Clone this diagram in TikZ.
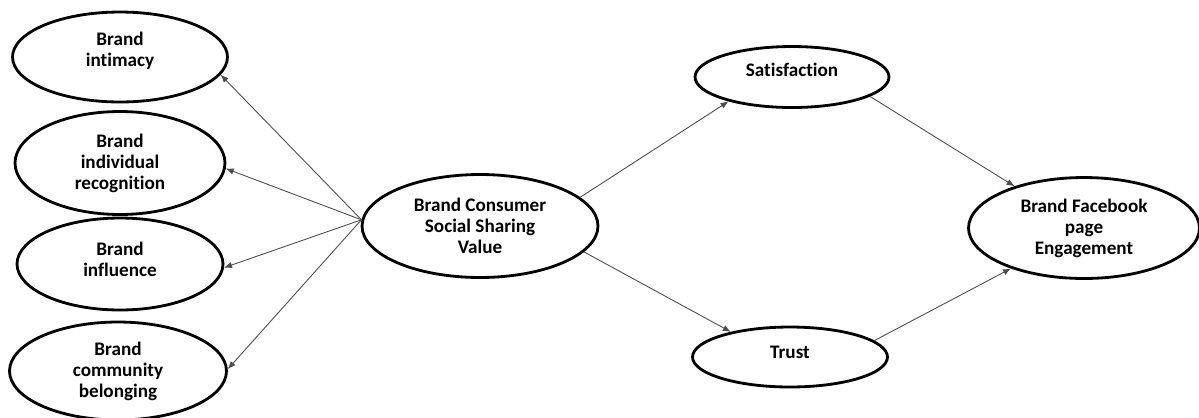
\documentclass[tikz,border=0pt]{standalone}
\usepackage{fontspec}
\setmainfont{Carlito}[Ligatures=NoCommon]
\usetikzlibrary{shapes.geometric,arrows.meta}
\begin{document}
\begin{tikzpicture}[x=0.02cm, y=-0.02cm, >={Latex[length=4.5pt,width=3.6pt]},
  construct/.style={draw, ellipse, line width=1.6pt, inner sep=0pt, align=center,
    font=\fontsize{10.9}{11.9}\selectfont\bfseries},
  link/.style={->, draw=black!70, line width=0.5pt}]
\useasboundingbox (0,0) rectangle (1199,417);

% dimensions on the left
\node (intimacy) [construct, minimum width=4.3cm, minimum height=1.8cm, text depth=0.3cm] at (120,57) {Brand\\intimacy};
\node (recognition) [construct, minimum width=4.2cm, minimum height=2.06cm] at (120,163) {Brand\\individual\\recognition};
\node (influence) [construct, minimum width=4.12cm, minimum height=1.84cm, text depth=0.2cm] at (120,264) {Brand\\influence};
\node (community) [construct, minimum width=4.34cm, minimum height=1.96cm] at (118,371) {Brand\\community\\belonging};

% central construct
\node (sharing) [construct, minimum width=4.72cm, minimum height=2.06cm] at (480,226) {Brand Consumer\\Social Sharing\\Value};

% mediators and outcome
\node (satisfaction) [construct, minimum width=3.88cm, minimum height=1.22cm, text depth=0.28cm] at (792,77) {Satisfaction};
\node (trust) [construct, minimum width=3.9cm, minimum height=1.2cm, text depth=0.2cm] at (790,357) {Trust};
\node (engagement) [construct, minimum width=4.62cm, minimum height=2.02cm] at (1084,228) {Brand Facebook\\page\\Engagement};

\draw [link] (sharing.177) -- (intimacy.-10);
\draw [link] (sharing.177) -- (recognition.-3);
\draw [link] (sharing.177) -- (influence.-2);
\draw [link] (sharing.177) -- (community.1);

\draw [link] (sharing.16) -- (satisfaction.201);
\draw [link] (sharing.-14) -- (trust.157);
\draw [link] (satisfaction.-14) -- (engagement.149);
\draw [link] (trust.11) -- (engagement.209);

\end{tikzpicture}
\end{document}
